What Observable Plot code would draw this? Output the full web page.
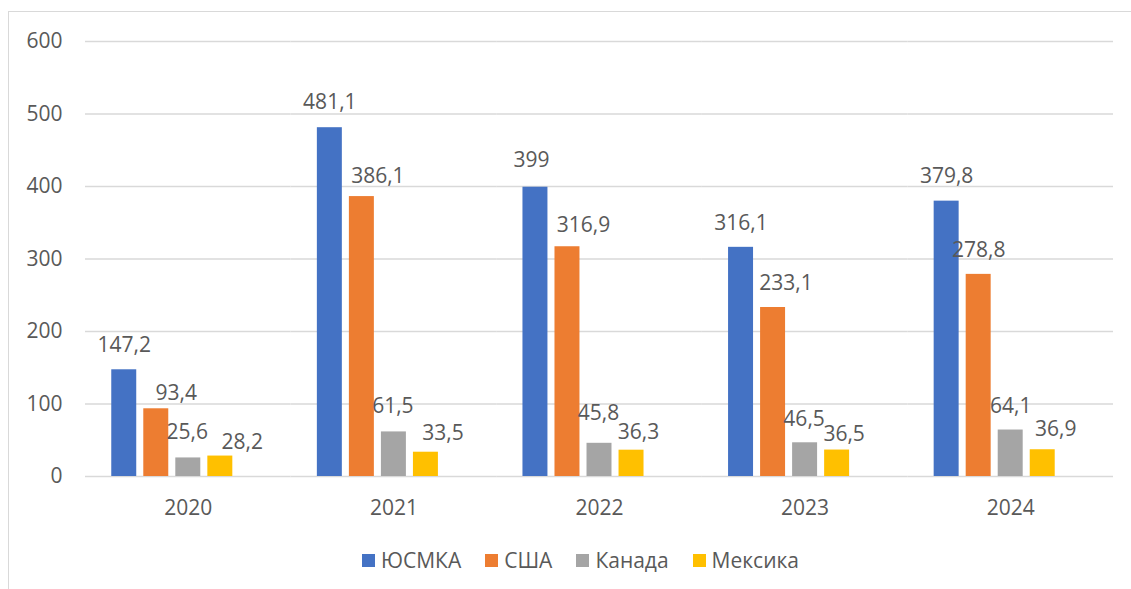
<!DOCTYPE html>
<html>
<head>
<meta charset="utf-8">
<script src="https://cdn.jsdelivr.net/npm/d3@7"></script>
<script src="https://cdn.jsdelivr.net/npm/@observablehq/plot@0.6"></script>
<style>
  html, body { margin: 0; padding: 0; background: #fff; overflow: hidden; width: 1131px; height: 589px; }
  #frame { position: absolute; left: 8px; top: 11px; width: 1200px; height: 700px; border: 1px solid #d9d9d9; box-sizing: border-box; }
  #chart { position: absolute; left: 0; top: 0; }
  #legend { position: absolute; left: 362px; top: 545px; height: 30px; display: flex; align-items: center;
            font-family: "Open Sans", sans-serif; font-size: 21px; color: #595959; white-space: nowrap; }
  .item { display: flex; align-items: center; margin-right: 24px; }
  .sw { width: 13px; height: 13px; margin-right: 6px; display: inline-block; }
</style>
</head>
<body>
<div id="frame"></div>
<div id="chart"></div>
<div id="legend"></div>
<script>
// ---- data ----
const years = ["2020", "2021", "2022", "2023", "2024"];
const seriesNames = ["ЮСМКА", "США", "Канада", "Мексика"];
const usmca  = [147.2, 481.1, 399, 316.1, 379.8];
const usa    = [93.4, 386.1, 316.9, 233.1, 278.8];
const canada = [25.6, 61.5, 45.8, 46.5, 64.1];
const mexico = [28.2, 33.5, 36.3, 36.5, 36.9];
const yTicks = [0, 100, 200, 300, 400, 500, 600];

// ---- style ----
const colors = ["#4472C4", "#ED7D31", "#A5A5A5", "#FFC000"];
// label nudges (px) per series, per year
const labelDx = [[0, 0, -4, 0, 0], [20, 16, 16, 13, 0], [-1, -1, -1, -1, 0], [22, 17, 7, 7, 13]];
const labelDy = [[-25, -25, -27, -24, -25], [-16, -20, -21, -24, -24], [-26, -26, -30, -24, -24], [-14, -19, -18, -16, -20]];

const seriesValues = [usmca, usa, canada, mexico];
const rows = [];
seriesNames.forEach((s, si) => {
  years.forEach((yr, yi) => {
    rows.push({year: yr, series: s, value: seriesValues[si][yi], si, yi});
  });
});
const fmt = v => String(v).replace(".", ",");

const labelMarks = rows.map(d => Plot.text([d], {
  fx: "year", x: "series", y: "value",
  text: r => fmt(r.value),
  dx: labelDx[d.si][d.yi], dy: labelDy[d.si][d.yi],
  fill: "#595959", fontSize: 21
}));

const chart = Plot.plot({
  width: 1131,
  height: 520,
  marginTop: 41,
  marginBottom: 44,
  marginLeft: 85,
  marginRight: 18,
  style: {fontFamily: "'Open Sans', sans-serif", fontSize: "21px", color: "#595959", background: "transparent"},
  fx: {domain: years, padding: 0, round: false, label: null, axis: "bottom", tickSize: 0, tickPadding: 24},
  x: {domain: [...seriesNames, " "], paddingInner: 0.22, paddingOuter: 0.82, round: false, axis: null},
  y: {domain: [0, 600], ticks: yTicks, tickSize: 0, tickPadding: 23, label: null},
  color: {domain: seriesNames, range: colors},
  marks: [
    Plot.ruleY(yTicks, {stroke: "#d9d9d9", strokeWidth: 1.3}),
    Plot.barY(rows, {fx: "year", x: "series", y: "value", fill: "series"}),
    ...labelMarks
  ]
});
document.getElementById("chart").appendChild(chart);

// legend
const lg = document.getElementById("legend");
seriesNames.forEach((s, i) => {
  const it = document.createElement("div");
  it.className = "item";
  const sw = document.createElement("span");
  sw.className = "sw";
  sw.style.background = colors[i];
  const t = document.createElement("span");
  t.textContent = s;
  it.appendChild(sw); it.appendChild(t);
  lg.appendChild(it);
});
</script>
</body>
</html>
